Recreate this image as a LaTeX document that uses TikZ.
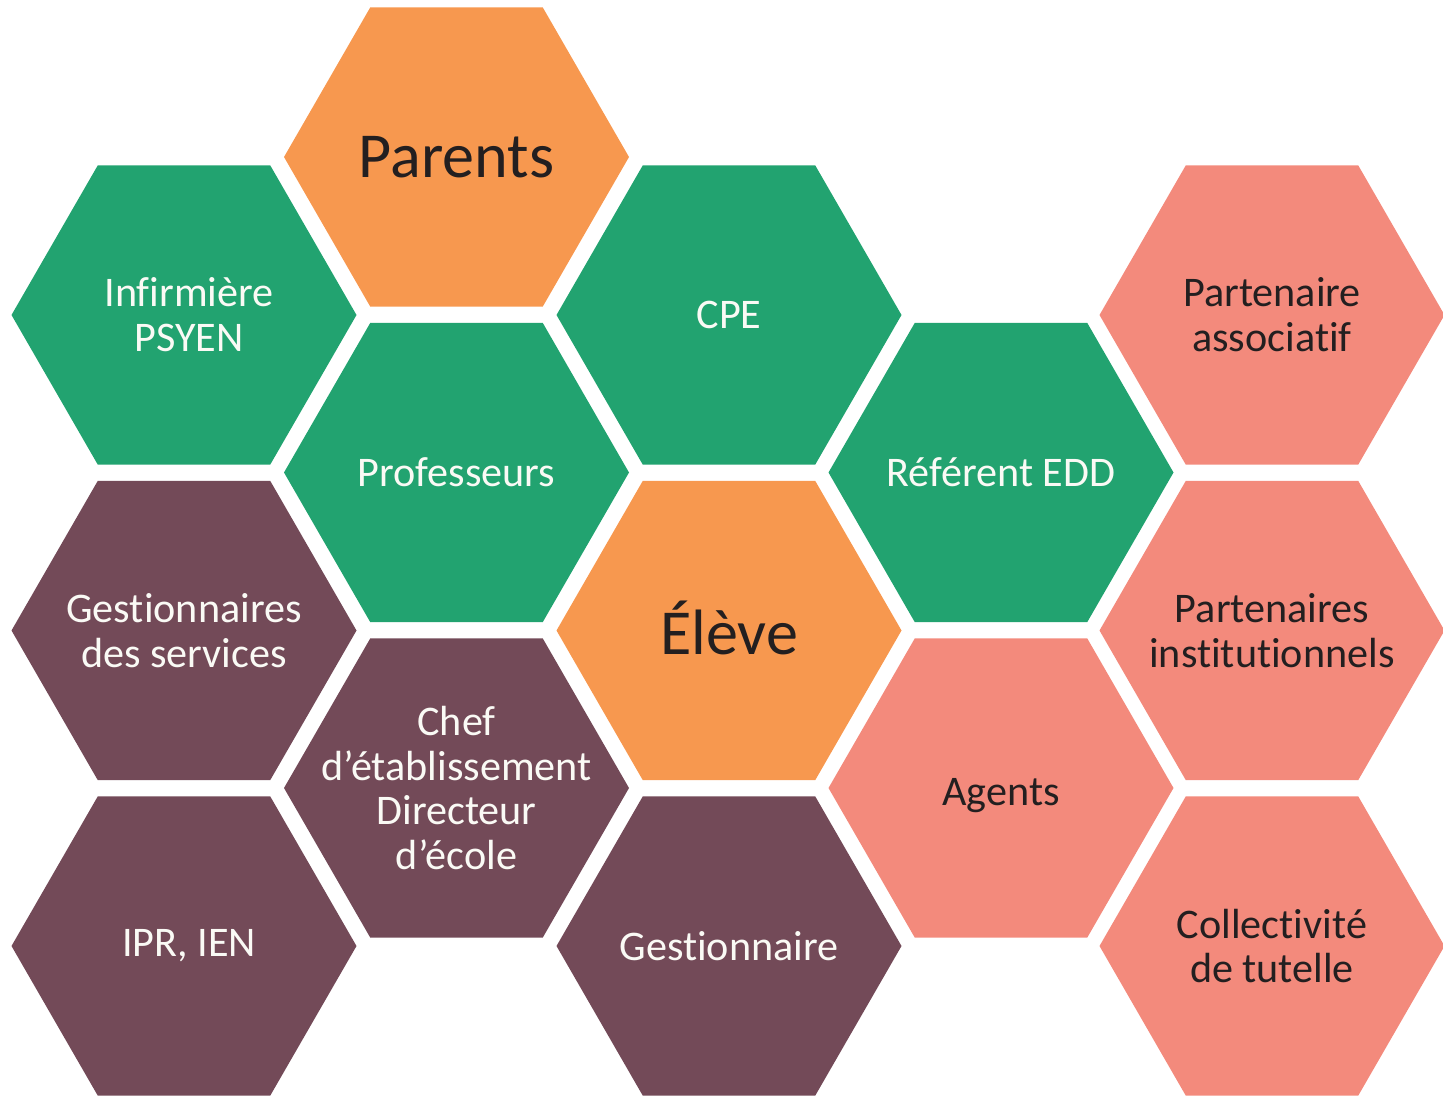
\documentclass[tikz,border=0pt]{standalone}
\usepackage{fontspec}
\setmainfont{Carlito}[Ligatures=NoCommon]
\definecolor{hgreen}{RGB}{34,163,112}
\definecolor{horange}{RGB}{247,152,79}
\definecolor{hplum}{RGB}{115,74,88}
\definecolor{hsalmon}{RGB}{243,138,124}
\definecolor{hdark}{RGB}{35,31,32}
\definecolor{hlight}{RGB}{250,250,245}
\newcommand\hexcell[7][]{%
  \fill[#5] (#3,#4) ++(-172.5,0) -- ++(86.25,-149.6) -- ++(172.5,0) -- ++(86.25,149.6) -- ++(-86.25,149.6) -- ++(-172.5,0) -- cycle;
  \node[lbl, text=#6, #1] (#2) at (#3,#4) {#7};
}
\begin{document}
\begin{tikzpicture}[x=0.02cm, y=-0.02cm,
  lbl/.style={align=center, inner sep=0pt, font=\fontsize{24}{25.5}\selectfont},
  big/.style={font=\fontsize{36.5}{40}\selectfont}]
\useasboundingbox (0,0) rectangle (1443,1095);
\clip (0,0) rectangle (1443,1095);
% column 1
\hexcell[xshift=0.1cm]{inf}{184}{315}{hgreen}{hlight}{Infirmière\\PSYEN}
\hexcell{gest}{184}{630.5}{hplum}{hlight}{Gestionnaires\\des services}
\hexcell[xshift=0.1cm]{ipr}{184}{946}{hplum}{hlight}{IPR, IEN}
% column 2
\hexcell[big]{par}{456.5}{157}{horange}{hdark}{Parents}
\hexcell{prof}{456.5}{472.5}{hgreen}{hlight}{Professeurs}
\hexcell{chef}{456.5}{788}{hplum}{hlight}{Chef\\d’établissement\\Directeur\\d’école}
% column 3
\hexcell{cpe}{729}{315}{hgreen}{hlight}{CPE}
\hexcell[big, yshift=0.06cm]{eleve}{729}{630.5}{horange}{hdark}{Élève}
\hexcell{gestn}{729}{946}{hplum}{hlight}{Gestionnaire}
% column 4
\hexcell{ref}{1001}{472.5}{hgreen}{hlight}{Référent EDD}
\hexcell[yshift=-0.16cm]{agents}{1001}{788}{hsalmon}{hdark}{Agents}
% column 5
\hexcell{pasa}{1272}{315}{hsalmon}{hdark}{Partenaire\\associatif}
\hexcell{pins}{1272}{630.5}{hsalmon}{hdark}{Partenaires\\institutionnels}
\hexcell{coll}{1272}{946}{hsalmon}{hdark}{Collectivité\\de tutelle}
\end{tikzpicture}
\end{document}
